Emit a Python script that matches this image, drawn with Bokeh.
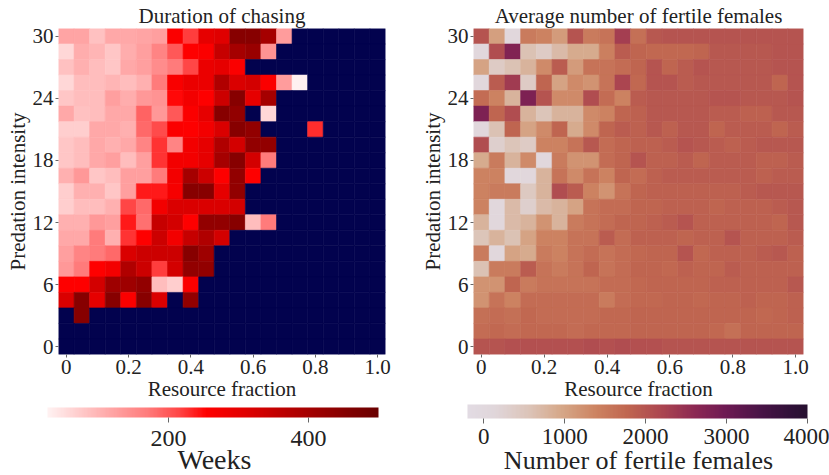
import numpy as np
from bokeh.plotting import figure
from bokeh.layouts import row
from bokeh.models import (LinearColorMapper, ColorBar, FixedTicker, Range1d,
                          Title, ColumnDataSource)
from bokeh.transform import transform
from bokeh.embed import file_html
from bokeh.resources import INLINE

# ---- grid axes -------------------------------------------------------------
resource_fraction = [0.0, 0.05, 0.1, 0.15, 0.2, 0.25, 0.3, 0.35, 0.4, 0.45, 0.5,
                     0.55, 0.6, 0.65, 0.7, 0.75, 0.8, 0.85, 0.9, 0.95, 1.0]
# rows listed from the top of the map (30) down to 0
predation_intensity = [30, 28.5, 27, 25.5, 24, 22.5, 21, 19.5, 18, 16.5, 15,
                       13.5, 12, 10.5, 9, 7.5, 6, 4.5, 3, 1.5, 0]

x_ticks = [0, 0.2, 0.4, 0.6, 0.8, 1.0]
x_tick_labels = ["0", "0.2", "0.4", "0.6", "0.8", "1.0"]
y_ticks = [0, 6, 12, 18, 24, 30]
weeks_ticks = [200, 400]
females_ticks = [0, 1000, 2000, 3000, 4000]

N = None  # no chasing in that cell

# ---- duration of chasing (weeks) ------------------------------------------
chasing_weeks = [
    [120, 120, 85, 115, 115, 120, 125, 260, 220, 300, 310, 450, 450, 400, 130, N, N, N, N, N, N],
    [60, 110, 100, 80, 110, 125, 160, 200, 255, 260, 350, 400, 420, 140, N, N, N, N, N, N, N],
    [85, 105, 90, 80, 115, 125, 150, 170, 215, 290, 300, 260, N, N, N, N, N, N, N, N, N],
    [60, 90, 90, 100, 90, 105, 170, 265, 290, 290, 380, 320, 330, 260, 130, 30, N, N, N, N, N],
    [80, 90, 90, 125, 110, 135, 140, 250, 275, 255, 340, 450, 300, 400, N, N, N, N, N, N, N],
    [115, 85, 90, 115, 115, 190, 135, 200, 260, 300, 450, 430, N, 60, N, N, N, N, N, N, N],
    [70, 70, 115, 115, 105, 185, 210, 260, 255, 275, 320, 450, 430, N, N, N, 230, N, N, N, N],
    [80, 90, 115, 105, 115, 160, 225, 160, 275, 300, 380, 330, 430, 430, N, N, N, N, N, N, N],
    [80, 90, 115, 125, 90, 125, 225, 275, 275, 300, 400, 450, 330, 170, N, N, N, N, N, N, N],
    [105, 135, 80, 90, 125, 125, 170, 275, 400, 340, 255, 430, 255, N, N, N, N, N, N, N, N],
    [70, 105, 105, 80, 125, 240, 240, 270, 450, 450, 300, 430, N, N, N, N, N, N, N, N, N],
    [70, 90, 90, 105, 215, 185, 275, 320, 320, 320, 320, 330, N, N, N, N, N, N, N, N, N],
    [105, 105, 135, 125, 240, 180, 350, 330, 255, 430, 430, 450, 90, 170, N, N, N, N, N, N, N],
    [115, 115, 170, 105, 225, 255, 340, 275, 350, 380, 330, N, N, N, N, N, N, N, N, N, N],
    [125, 160, 170, 185, 320, 340, 340, 340, 450, 410, N, N, N, N, N, N, N, N, N, N, N],
    [135, 170, 255, 275, 380, 340, 220, 330, 430, 430, N, N, N, N, N, N, N, N, N, N, N],
    [255, 255, 330, 410, 410, 430, 90, 70, 260, N, N, N, N, N, N, N, N, N, N, N, N],
    [320, 450, 300, 450, 260, 450, 320, N, 430, N, N, N, N, N, N, N, N, N, N, N, N],
    [N, 450, N, N, N, N, N, N, N, N, N, N, N, N, N, N, N, N, N, N, N],
    [N, N, N, N, N, N, N, N, N, N, N, N, N, N, N, N, N, N, N, N, N],
    [N, N, N, N, N, N, N, N, N, N, N, N, N, N, N, N, N, N, N, N, N],
]

# ---- average number of fertile females -------------------------------------
fertile_females = [
    [2000, 1050, 50, 1500, 1400, 1100, 2000, 1500, 1600, 2300, 1650, 1950, 2000, 2000, 2000, 2000, 2000, 2000, 2000, 2000, 2000],
    [50, 2100, 2750, 600, 400, 700, 900, 900, 1450, 1900, 1800, 1750, 1750, 1750, 1800, 1950, 1950, 1950, 1950, 2000, 2000],
    [1000, 400, 600, 800, 1300, 1900, 1100, 1600, 1600, 1700, 1800, 2000, 1800, 1900, 2000, 1950, 1950, 1950, 1950, 2000, 2000],
    [50, 1900, 2350, 400, 1800, 1000, 1300, 1200, 1600, 2200, 1750, 2000, 2000, 1900, 1950, 1950, 1950, 1950, 1950, 1800, 2000],
    [1700, 1400, 800, 2800, 2000, 1300, 1300, 2100, 1700, 1400, 1900, 1950, 1950, 1950, 1950, 2000, 2000, 1950, 1950, 1950, 2000],
    [2800, 1800, 2100, 800, 550, 800, 800, 1300, 1400, 1800, 1850, 1950, 1950, 1950, 1950, 1900, 1900, 1850, 1850, 1950, 1950],
    [50, 600, 1800, 1000, 1300, 1800, 900, 1300, 1800, 1900, 1850, 1950, 1850, 1950, 1950, 1800, 1900, 1900, 1900, 1800, 1900],
    [2100, 300, 550, 400, 1400, 1400, 1600, 1950, 1700, 1800, 1850, 1850, 1900, 2000, 1950, 1900, 1850, 1900, 1950, 1950, 1950],
    [900, 1500, 800, 1300, 50, 1500, 1200, 1200, 1700, 1800, 2000, 1850, 1850, 1900, 1800, 1900, 1900, 1900, 1850, 1850, 1900],
    [1400, 1400, 50, 50, 800, 1600, 1300, 1600, 1400, 1800, 1700, 1850, 1900, 1900, 1900, 1900, 1900, 1900, 1850, 1900, 1900],
    [1400, 1500, 1500, 450, 800, 2100, 1900, 1400, 1200, 1600, 1800, 1850, 1850, 1850, 1850, 1850, 1850, 1900, 1950, 1950, 1950],
    [1400, 50, 700, 300, 700, 800, 1000, 1600, 1700, 1700, 1800, 1800, 1850, 1850, 1850, 1800, 1850, 1850, 1850, 1900, 1950],
    [800, 50, 700, 800, 1200, 800, 1500, 1600, 1700, 1800, 1800, 1850, 1900, 2000, 1850, 1850, 1850, 1850, 1850, 1800, 1950],
    [550, 800, 600, 1000, 1400, 1400, 1600, 1600, 1900, 1700, 1850, 1850, 1850, 1800, 1850, 1850, 2000, 1850, 1850, 1850, 1900],
    [1500, 50, 1000, 900, 1500, 1400, 1600, 1700, 1600, 1700, 1750, 1800, 1800, 2000, 1750, 1850, 1850, 1850, 1900, 1950, 1850],
    [600, 1500, 1500, 1900, 1600, 1500, 1600, 1800, 1600, 1700, 1800, 1800, 1750, 1850, 1800, 1800, 1900, 1850, 1850, 1850, 1850],
    [1200, 1200, 1800, 1500, 1600, 1600, 1600, 1600, 1700, 1700, 1750, 1800, 1800, 1800, 1800, 1850, 1850, 1850, 1850, 1850, 1950],
    [1200, 1600, 1400, 1700, 1700, 1700, 1700, 1700, 1500, 1700, 1750, 1750, 1800, 1800, 1750, 1800, 1800, 1850, 1800, 1800, 1850],
    [1650, 1700, 1650, 1750, 1700, 1700, 1700, 1700, 1750, 1750, 1800, 1800, 1800, 1800, 1800, 1800, 1800, 1800, 1750, 1800, 1850],
    [1700, 1750, 1700, 1750, 1750, 1750, 1700, 1750, 1750, 1750, 1800, 1800, 1800, 1800, 1800, 1750, 1650, 1800, 1800, 1800, 1800],
    [2000, 2000, 2050, 2050, 2050, 2050, 2050, 2100, 2050, 2100, 2050, 2050, 2000, 2000, 2000, 2000, 2000, 2000, 2000, 2000, 2000],
]

FONT = "Liberation Serif"
TEXT = "#222222"


def blend_palette(stops, n=256):
    """Piecewise-linear palette through (fraction, hex) stops."""
    fr = np.array([s[0] for s in stops])
    rgb = np.array([[int(h[i:i + 2], 16) for i in (1, 3, 5)] for _, h in stops], float)
    t = np.linspace(0, 1, n)
    chans = [np.interp(t, fr, rgb[:, k]) for k in range(3)]
    return ["#%02x%02x%02x" % tuple(int(round(c[i])) for c in chans) for i in range(n)]


reds = blend_palette([
    (0.00, "#fff2f2"), (0.10, "#ffcaca"), (0.20, "#ffa2a2"), (0.30, "#ff7c7c"),
    (0.40, "#ff4444"), (0.48, "#ff0000"), (0.60, "#e00000"), (0.75, "#b00000"),
    (0.90, "#850000"), (1.00, "#6a0000"),
])
dusk = blend_palette([
    (0.00, "#e2dbe3"), (0.08, "#e0d6da"), (0.18, "#dcc4b8"), (0.27, "#d6a98a"),
    (0.375, "#cd8462"), (0.47, "#c06650"), (0.57, "#ac4650"), (0.67, "#8c2853"),
    (0.76, "#6e1a53"), (0.86, "#4a1447"), (0.96, "#2e1037"), (1.00, "#271030"),
])

weeks_mapper = LinearColorMapper(palette=reds, low=27, high=500, nan_color="#02024e")
females_mapper = LinearColorMapper(palette=dusk, low=-200, high=4000)


def style_axes(p):
    for ax in (p.xaxis[0], p.yaxis[0]):
        ax.axis_line_color = None
        ax.major_tick_line_color = "#666666"
        ax.major_tick_out = 3
        ax.major_tick_in = 0
        ax.minor_tick_line_color = None
        ax.major_label_text_font = FONT
        ax.major_label_text_font_size = "21px"
        ax.major_label_text_color = TEXT
        ax.major_label_standoff = 2
        ax.axis_label_text_font = FONT
        ax.axis_label_text_font_size = "21px"
        ax.axis_label_text_font_style = "normal"
        ax.axis_label_text_color = TEXT
        ax.axis_label_standoff = 0
    p.xaxis.ticker = FixedTicker(ticks=x_ticks)
    p.xaxis.major_label_overrides = dict(zip(x_ticks, x_tick_labels))
    p.yaxis.ticker = FixedTicker(ticks=y_ticks)
    p.xaxis.axis_label = "Resource fraction"
    p.yaxis.axis_label = "Predation intensity"


def heatmap_panel(title, grid, mapper, width, left, right):
    xs, ys, vs = [], [], []
    for i, y in enumerate(predation_intensity):
        for j, x in enumerate(resource_fraction):
            xs.append(x)
            ys.append(y)
            vs.append(np.nan if grid[i][j] is None else float(grid[i][j]))
    src = ColumnDataSource(dict(x=xs, y=ys, v=np.array(vs)))

    p = figure(width=width, height=475,
               x_range=Range1d(-0.025, 1.025), y_range=Range1d(-0.75, 30.75),
               output_backend="svg", toolbar_location=None,
               min_border_left=left, min_border_right=right,
               min_border_top=28, min_border_bottom=121)
    p.rect(x="x", y="y", width=0.05, height=1.5, source=src,
           fill_color=transform("v", mapper), line_color=transform("v", mapper),
           line_width=0.6)
    p.title.text = title
    p.title.align = "center"
    p.title.text_font = FONT
    p.title.text_font_size = "21px"
    p.title.text_font_style = "normal"
    p.title.text_color = TEXT
    p.title.standoff = 1
    p.grid.visible = False
    p.outline_line_color = None
    style_axes(p)
    return p


def add_colorbar(p, mapper, ticks, bar_w, bar_h, loc, tick_size, standoff,
                 caption, caption_size, caption_align, caption_offset, gap):
    # colour bar drawn over the lower margin, offset from the frame's lower-left corner
    cb = ColorBar(color_mapper=mapper, orientation="horizontal",
                  width=bar_w, height=bar_h, padding=0, margin=0,
                  location=loc,
                  ticker=FixedTicker(ticks=ticks),
                  major_label_text_font=FONT, major_label_text_font_size=tick_size,
                  major_label_text_color=TEXT,
                  major_tick_out=5, major_tick_in=0, major_tick_line_color="#666666",
                  minor_tick_line_color=None, label_standoff=standoff,
                  bar_line_color=None, border_line_color=None,
                  background_fill_color=None)
    p.add_layout(cb, "center")
    # blank strip that pushes the caption down to the bottom edge
    p.add_layout(Title(text=" ", text_font_size="10px", standoff=gap), "below")
    p.add_layout(Title(text=caption, align=caption_align, offset=caption_offset,
                       text_font=FONT, text_font_size=caption_size,
                       text_font_style="normal", text_color=TEXT, standoff=2),
                 "below")


left = heatmap_panel("Duration of chasing", chasing_weeks, weeks_mapper, 414, 58, 29)
add_colorbar(left, weeks_mapper, weeks_ticks, 331, 10, (-11, -94), "24px", 8,
             "Weeks", "28px", "left", 119, 24)

right = heatmap_panel("Average number of fertile females", fertile_females,
                      females_mapper, 415, 59, 26)
add_colorbar(right, females_mapper, females_ticks, 340, 14, (-6, -92), "23px", 5,
             "Number of fertile females", "26px", "center", 0, 26)

layout = row(left, right)
open("out.html", "w").write(file_html(layout, INLINE))
